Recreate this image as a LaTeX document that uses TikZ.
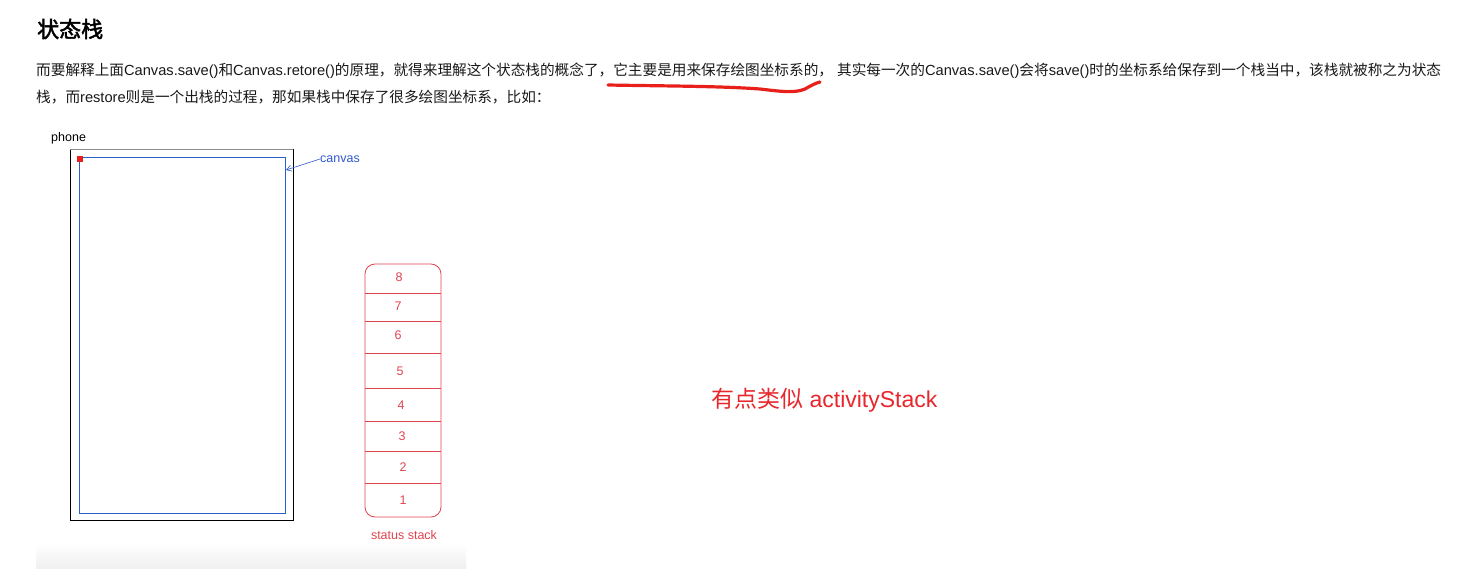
\documentclass[tikz,border=0pt]{standalone}
\usepackage{fontspec}
\setmainfont{Noto Sans CJK SC}
\newfontfamily\cjkbold{Noto Sans CJK SC}[FakeBold=2]
\newfontfamily\lib{Liberation Sans}
\newcommand\latn[1]{{\lib #1}}
\usetikzlibrary{arrows.meta}
\definecolor{stackred}{HTML}{E0434F}
\definecolor{txtred}{HTML}{E8262C}
\definecolor{penred}{HTML}{E8201C}
\definecolor{canvasblue}{HTML}{2A5FCC}
\definecolor{labelblue}{HTML}{2F58D0}
\tikzset{
  para/.style={anchor=west,inner sep=0pt,font=\fontsize{14.65}{16}\selectfont,text=black!90},
  celltxt/.style={inner sep=0pt,text=stackred,font=\lib\fontsize{12.5}{14}\selectfont},
  small/.style={inner sep=0pt,font=\lib\fontsize{12.5}{14}\selectfont},
}
\begin{document}
\begin{tikzpicture}[x=1pt,y=-1pt]
\useasboundingbox (0,0) rectangle (1475,578);
% title and paragraph
\node[anchor=west,inner sep=0pt,font=\cjkbold\fontsize{22}{24}\selectfont] (title) at (37,29) {状态栈};
\node[para] (l1) at (36,71) {而要解释上面\latn{Canvas.save()}和\latn{Canvas.retore()}的原理，就得来理解这个状态栈的概念了，它主要是用来保存绘图坐标系的，\latn{ }其实每一次的\latn{Canvas.save()}会将\latn{save()}时的坐标系给保存到一个栈当中，该栈就被称之为状态};
\node[para] (l2) at (36,97) {栈，而\latn{restore}则是一个出栈的过程，那如果栈中保存了很多绘图坐标系，比如：};
% red pen underline
\draw[penred,line width=3.2pt,line cap=round,line join=round]
  (608,85) .. controls (660,86) and (720,86) .. (760,89)
  .. controls (785,92) and (795,93) .. (805,89)
  .. controls (812,85) and (816,83) .. (820,82);
% bottom gray band
\shade[top color=white,bottom color=black!6] (36,543) rectangle (466,568);
% phone
\node[small,anchor=west] (phonelbl) at (51,138) {phone};
\draw[black,line width=0.9pt] (70,149) rectangle (293,520);
\draw[black!45,line width=0.9pt] (70,149) -- (293,149);
% canvas
\draw[canvasblue,line width=0.9pt] (79,157) rectangle (285,513);
\coordinate (canvasE) at (286,170);
\fill[penred] (77,156) rectangle (83,162);
\node[small,text=labelblue,anchor=west] (canvaslbl) at (320,159) {canvas};
\draw[labelblue,line width=0.6pt,-{Straight Barb[length=5pt,width=6pt]}] (canvaslbl.west) -- (canvasE);
% status stack
\draw[stackred,line width=0.8pt,rounded corners=10pt] (365,264) rectangle (441,517);
\foreach \yy in {293,321,353,388,421,451,483}{
  \draw[stackred,line width=0.7pt] (365,\yy) -- (441,\yy);
}
\node[celltxt] (c8) at (399,277) {8};
\node[celltxt] (c7) at (398,306) {7};
\node[celltxt] (c6) at (398,335) {6};
\node[celltxt] (c5) at (400,371) {5};
\node[celltxt] (c4) at (401,405) {4};
\node[celltxt] (c3) at (402,436) {3};
\node[celltxt] (c2) at (403,467) {2};
\node[celltxt] (c1) at (403,500) {1};
\node[celltxt] (stacklbl) at (404,535) {status stack};
% note
\node[anchor=west,inner sep=0pt,text=txtred,font=\fontsize{23}{25}\selectfont] (note) at (711,400) {有点类似\latn{ activityStack}};
\end{tikzpicture}
\end{document}
